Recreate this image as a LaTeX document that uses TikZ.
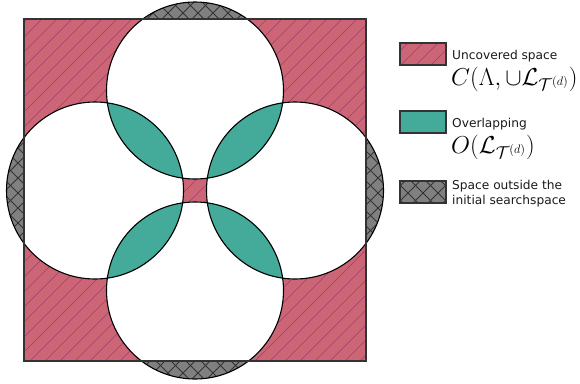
\documentclass[tikz,border=0pt]{standalone}
\usepackage{fix-cm}
\usepackage{fontspec}
\setmainfont{DejaVu Sans}
\definecolor{rose}{HTML}{CC6677}
\definecolor{tealc}{HTML}{44AA99}
\definecolor{hatchrose}{HTML}{A0406A}
\definecolor{grayfill}{HTML}{808080}
\definecolor{hatchgray}{HTML}{333333}
\newcommand{\slashhatch}[1]{\foreach \k in {0,...,65} {\draw[#1] ({1+15*\k},0) -- ++(-400,400);}}
\newcommand{\backhatch}[1]{\foreach \k in {-27,...,39} {\draw[#1] ({5+15*\k},0) -- ++(400,400);}}
\tikzset{
  rosehatch/.style={hatchrose, line width=0.55pt},
  grayhatch/.style={hatchgray, line width=0.8pt},
  outline/.style={draw=black, line width=1.1pt},
  sqborder/.style={draw=black!80, line width=1.1pt},
  legbox/.style={draw=black!80, line width=1.1pt},
  txt/.style={anchor=base west, inner sep=0pt, text=black!90, font=\fontsize{12.2}{14.6}\selectfont},
  mth/.style={anchor=base west, inner sep=0pt, font=\fontsize{24.5}{28}\selectfont},
}
\begin{document}
\begin{tikzpicture}[x=1pt,y=-1pt]
\useasboundingbox (0,0) rectangle (580,383);
\coordinate (ct) at (195,90.5);
\coordinate (cb) at (195,290.5);
\coordinate (cl) at (95,190.5);
\coordinate (cr) at (295,190.5);
\def\R{88.5pt}
% gray outside parts
\fill[grayfill] (ct) circle[radius=\R] (cb) circle[radius=\R] (cl) circle[radius=\R] (cr) circle[radius=\R];
\begin{scope}
  \clip (ct) circle[radius=\R] (cb) circle[radius=\R] (cl) circle[radius=\R] (cr) circle[radius=\R];
  \slashhatch{grayhatch}
  \backhatch{grayhatch}
\end{scope}
% uncovered square
\fill[rose] (24,19) rectangle (366,361);
\begin{scope}
  \clip (24,19) rectangle (366,361);
  \slashhatch{rosehatch}
  \fill[white] (ct) circle[radius=\R] (cb) circle[radius=\R] (cl) circle[radius=\R] (cr) circle[radius=\R];
\end{scope}
% overlaps
\begin{scope}\clip (ct) circle[radius=\R]; \fill[tealc] (cl) circle[radius=\R] (cr) circle[radius=\R];\end{scope}
\begin{scope}\clip (cb) circle[radius=\R]; \fill[tealc] (cl) circle[radius=\R] (cr) circle[radius=\R];\end{scope}
% outlines
\draw[outline] (ct) circle[radius=\R];
\draw[outline] (cb) circle[radius=\R];
\draw[outline] (cl) circle[radius=\R];
\draw[outline] (cr) circle[radius=\R];
\draw[sqborder] (24,19) rectangle (366,361);
% legend
\fill[rose] (400,43) rectangle (446,65);
\begin{scope}\clip (400,43) rectangle (446,65); \slashhatch{rosehatch}\end{scope}
\draw[legbox] (400,43) rectangle (446,65);
\fill[tealc] (400,111) rectangle (446,133);
\draw[legbox] (400,111) rectangle (446,133);
\fill[grayfill] (400,181) rectangle (446,203);
\begin{scope}\clip (400,181) rectangle (446,203); \slashhatch{grayhatch}\backhatch{grayhatch}\end{scope}
\draw[legbox] (400,181) rectangle (446,203);
\node[txt] (l1) at (452,59) {Uncovered space};
\node[mth] (m1) at (451,85) {$C(\Lambda,\cup\mathcal{L}_{\mathcal{T}^{(d)}})$};
\node[txt] (l2) at (452,127) {Overlapping};
\node[mth] (m2) at (451,153) {$O(\mathcal{L}_{\mathcal{T}^{(d)}})$};
\node[txt] (l3) at (452,189) {Space outside the};
\node[txt] (l4) at (452,204) {initial searchspace};
\end{tikzpicture}
\end{document}
